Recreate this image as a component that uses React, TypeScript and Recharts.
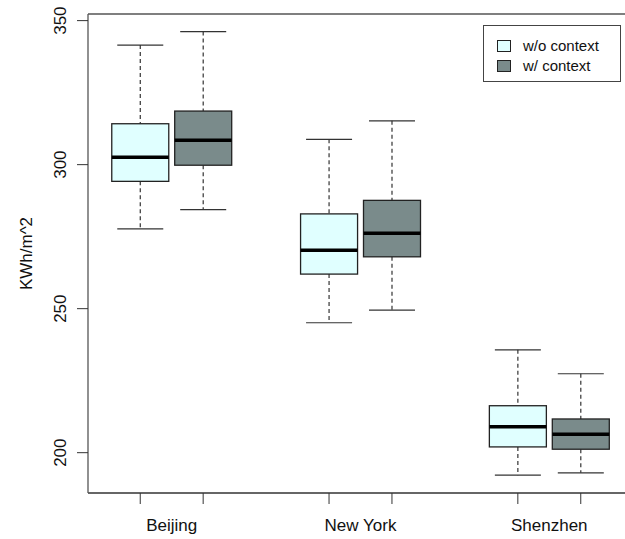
import React from "react";
import { ComposedChart, Bar, XAxis, YAxis, ReferenceLine } from "recharts";

const cities = ["Beijing", "New York", "Shenzhen"];
const seriesNames = ["w/o context", "w/ context"];
const seriesFills = ["#E0FFFF", "#7A8B8B"];
const boxPositions = [[1, 2], [4, 5], [7, 8]];
const cityLabelPositions = [1.5, 4.5, 7.5];
const yTicks = [200, 250, 300, 350];

// w/o context
const woMin = [277.7, 245.1, 192.2];
const woQ1 = [294.2, 262.0, 202.0];
const woMed = [302.6, 270.3, 209.0];
const woQ3 = [314.2, 282.9, 216.3];
const woMax = [341.5, 308.8, 235.7];

// w/ context
const wMin = [284.4, 249.5, 193.0];
const wQ1 = [299.8, 268.0, 201.2];
const wMed = [308.5, 276.2, 206.4];
const wQ3 = [318.6, 287.6, 211.7];
const wMax = [346.2, 315.2, 227.4];

const rows = cities.flatMap((city, i) => [
  { pos: boxPositions[i][0], city, s: 0, min: woMin[i], q1: woQ1[i], med: woMed[i], q3: woQ3[i], max: woMax[i] },
  { pos: boxPositions[i][1], city, s: 1, min: wMin[i], q1: wQ1[i], med: wMed[i], q3: wQ3[i], max: wMax[i] },
]);

const X_DOMAIN: [number, number] = [0.17, 8.83];
const Y_DOMAIN: [number, number] = [186, 352.3];
const FONT = "'Liberation Sans', Arial, sans-serif";

function BoxShape(props: any) {
  const { x, y, width, height, payload } = props;
  if (!payload) return null;
  const ppu = height / (payload.max - payload.min);
  const toY = (v: number) => y + (payload.max - v) * ppu;
  const cx = x + width / 2;
  const cap = 23;
  const yMax = toY(payload.max);
  const yQ3 = toY(payload.q3);
  const yMed = toY(payload.med);
  const yQ1 = toY(payload.q1);
  const yMin = toY(payload.min);
  return (
    <g>
      <line x1={cx} x2={cx} y1={yMax} y2={yQ3} stroke="#333" strokeWidth={1.2} strokeDasharray="4 3" />
      <line x1={cx} x2={cx} y1={yQ1} y2={yMin} stroke="#333" strokeWidth={1.2} strokeDasharray="4 3" />
      <line x1={cx - cap} x2={cx + cap} y1={yMax} y2={yMax} stroke="#333" strokeWidth={1.2} />
      <line x1={cx - cap} x2={cx + cap} y1={yMin} y2={yMin} stroke="#333" strokeWidth={1.2} />
      <rect x={x} y={yQ3} width={width} height={yQ1 - yQ3} fill={seriesFills[payload.s]} stroke="#222" strokeWidth={1.3} />
      <line x1={x} x2={x + width} y1={yMed} y2={yMed} stroke="#000" strokeWidth={3.5} />
    </g>
  );
}

function YTick(props: any) {
  const { x, y, payload } = props;
  const bx = x - 9;
  return (
    <text x={bx} y={y} transform={`rotate(-90, ${bx}, ${y})`} textAnchor="middle" fontSize={17} fontFamily={FONT} fill="#111">
      {payload.value}
    </text>
  );
}

function CityTick(props: any) {
  const { x, y, payload } = props;
  const idx = cityLabelPositions.indexOf(payload.value);
  return (
    <text x={x} y={y} dy={18} textAnchor="middle" fontSize={17} fontFamily={FONT} fill="#111">
      {cities[idx]}
    </text>
  );
}

function YLabel(props: any) {
  const { viewBox } = props;
  const bx = 32;
  const cy = viewBox.y + viewBox.height / 2;
  return (
    <text x={bx} y={cy} transform={`rotate(-90, ${bx}, ${cy})`} textAnchor="middle" fontSize={17} fontFamily={FONT} fill="#111">
      KWh/m^2
    </text>
  );
}

export default function App() {
  return (
    <div style={{ position: "absolute", left: 0, top: 0, width: 625, height: 539, overflow: "hidden", background: "#fff" }}>
      <ComposedChart width={640} height={539} data={rows} margin={{ top: 14, right: 7, bottom: 0, left: 0 }}>
        <XAxis
          xAxisId="axisA"
          dataKey="pos"
          type="number"
          domain={X_DOMAIN}
          ticks={boxPositions.flat()}
          allowDataOverflow
          height={12}
          tick={<g />}
          tickSize={11}
          tickLine={{ stroke: "#333" }}
          axisLine={{ stroke: "#333", strokeWidth: 1.3 }}
        />
        <XAxis
          xAxisId="axisB"
          dataKey="pos"
          type="number"
          domain={X_DOMAIN}
          ticks={cityLabelPositions}
          allowDataOverflow
          height={34}
          axisLine={false}
          tickLine={false}
          tick={<CityTick />}
        />
        <YAxis
          type="number"
          domain={Y_DOMAIN}
          ticks={yTicks}
          allowDataOverflow
          width={88}
          tickSize={11}
          tickLine={{ stroke: "#333" }}
          axisLine={{ stroke: "#555", strokeWidth: 1.3 }}
          tick={<YTick />}
          label={<YLabel />}
        />
        <ReferenceLine xAxisId="axisA" y={Y_DOMAIN[1]} stroke="#555" strokeWidth={1.3} />
        <ReferenceLine xAxisId="axisA" x={X_DOMAIN[1]} stroke="#555" strokeWidth={1.3} />
        <Bar
          xAxisId="axisA"
          dataKey={(d: any) => [d.min, d.max]}
          barSize={57}
          shape={<BoxShape />}
          isAnimationActive={false}
        />
      </ComposedChart>
      <div
        style={{
          position: "absolute",
          left: 483,
          top: 25,
          width: 138,
          height: 57,
          border: "1px solid #444",
          background: "#fff",
          fontFamily: FONT,
          fontSize: 15,
          color: "#111",
          boxSizing: "border-box",
        }}
      >
        {seriesNames.map((name, i) => (
          <div key={name} style={{ position: "absolute", left: 13, top: 11 + i * 20, display: "flex", alignItems: "center", lineHeight: "17px" }}>
            <span style={{ display: "inline-block", width: 12, height: 10, background: seriesFills[i], border: "1px solid #222", marginRight: 12 }} />
            <span>{name}</span>
          </div>
        ))}
      </div>
    </div>
  );
}
